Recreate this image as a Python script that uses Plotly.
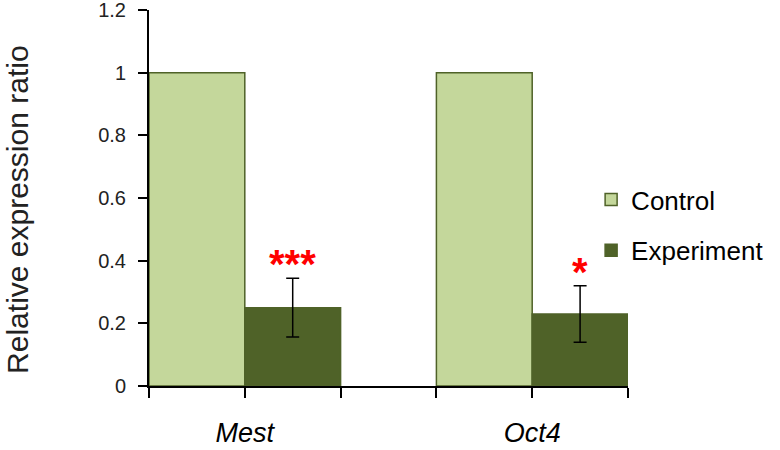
import plotly.graph_objects as go

genes = ["Mest", "Oct4"]
control = [1.0, 1.0]
experiment = [0.25, 0.23]
experiment_err = [0.094, 0.09]
stars = ["***", "*"]

y_ticks = [0, 0.2, 0.4, 0.6, 0.8, 1.0, 1.2]
y_ticktext = ["0", "0.2", "0.4", "0.6", "0.8", "1", "1.2"]

# each gene occupies two unit-wide bars, with a one-unit gap between genes
pos = [3 * i + 1 for i in range(len(genes))]

light = "#C4D79B"
dark = "#4F6228"

fig = go.Figure()
fig.add_trace(go.Bar(x=pos, y=control, name="Control", width=1, offset=-1,
                     marker=dict(color=light, line=dict(color=dark, width=1.5)),
                     legendgroup="c"))
fig.add_trace(go.Bar(x=pos, y=experiment, name="Experiment", width=1, offset=0,
                     marker=dict(color=dark, line=dict(color=dark, width=1.5)),
                     error_y=dict(type="data", array=experiment_err, color="black",
                                  thickness=1.5, width=6.5),
                     legendgroup="e"))

for p, v, e, s in zip(pos, experiment, experiment_err, stars):
    fig.add_annotation(x=p + 0.5, y=v + e, text="<b>" + s + "</b>", showarrow=False,
                       yanchor="bottom", yshift=-10,
                       font=dict(color="#FF0000", size=40, family="Liberation Sans"))

# y axis title as a rotated annotation so it can sit near the left edge
fig.add_annotation(x=-0.2735, y=0.471, xref="paper", yref="paper",
                   text="Relative expression ratio", textangle=-90, showarrow=False,
                   xanchor="center", yanchor="middle",
                   font=dict(size=30, color="#222"))

fig.update_layout(
    width=780, height=450,
    margin=dict(l=149, r=152, t=10, b=64),
    plot_bgcolor="white", paper_bgcolor="white",
    font=dict(family="Liberation Sans, Arial, sans-serif", color="#222"),
    showlegend=True,
    legend=dict(x=0.923, y=0.428, xanchor="left", yanchor="middle",
                font=dict(size=26, color="black"), traceorder="grouped",
                tracegroupgap=14, bgcolor="rgba(0,0,0,0)"),
    xaxis=dict(range=[0, 3 * len(genes) - 1], showgrid=False, zeroline=False,
               showline=True, linecolor="black", linewidth=2, automargin=False,
               ticks="outside", ticklen=10, tickwidth=2, tickcolor="black",
               tickvals=list(range(0, 3 * len(genes))),
               ticktext=["<i>" + genes[i // 3] + "</i>" if i % 3 == 1 else ""
                         for i in range(3 * len(genes))],
               tickfont=dict(size=27, color="black"), ticklabelstandoff=12),
    yaxis=dict(range=[0, 1.2], showgrid=False, zeroline=False,
               showline=True, linecolor="black", linewidth=2, automargin=False,
               ticks="outside", ticklen=9, tickwidth=2, tickcolor="black",
               tickvals=y_ticks, ticktext=y_ticktext, ticklabelstandoff=8,
               ticklabeloverflow="allow",
               tickfont=dict(size=20, color="#222")),
)

fig.write_html("out.html", config={"displayModeBar": False},
               post_script="document.body.style.margin='0';")
